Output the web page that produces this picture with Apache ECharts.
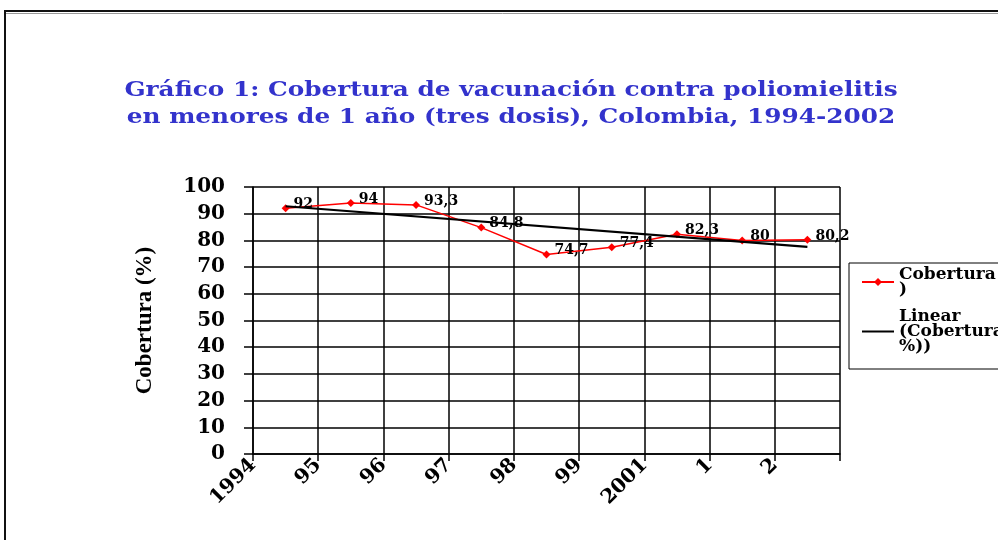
<!DOCTYPE html>
<html>
<head>
<meta charset="utf-8">
<title>Cobertura de vacunación contra poliomielitis</title>
<script src="https://cdn.jsdelivr.net/npm/echarts@6/dist/echarts.min.js"></script>
<style>
  html, body { margin: 0; padding: 0; background: #fff; }
  #main { width: 998px; height: 540px; }
</style>
</head>
<body>
<div id="main"></div>
<script>
// datos
var years = ['1994', '95', '96', '97', '98', '99', '2001', '1', '2'];
var cobertura = [92, 94, 93.3, 84.8, 74.7, 77.4, 82.3, 80, 80.2];
// tendencia lineal (extremos)
var tendencia = [92.8, 77.6];
// etiquetas del eje x, van en las marcas (una mas que categorias)
var tickLabels = years.concat(['']);

var titulo = 'Gráfico 1: Cobertura de vacunación contra poliomielitis\nen menores de 1 año (tres dosis), Colombia, 1994-2002';
var serieNombre = 'Cobertura (%)';
var tendNombre = 'Linear (Cobertura (%))';

var chart = echarts.init(document.getElementById('main'), null, { renderer: 'canvas' });

var option = {
  backgroundColor: '#fff',
  animation: false,
  graphic: [
    { // marco exterior
      type: 'rect',
      shape: { x: 5, y: 11, width: 1100, height: 600 },
      style: { fill: 'none', stroke: '#111', lineWidth: 2 },
      z: 0
    },
    { // sombra gris del marco
      type: 'line',
      shape: { x1: 6, y1: 13.5, x2: 1000, y2: 13.5 },
      style: { stroke: '#999', lineWidth: 1 },
      z: 0
    },
    { // titulo (el original esta estirado en horizontal)
      type: 'text',
      x: 511,
      y: 77,
      scaleX: 1.18,
      style: {
        text: titulo,
        align: 'center',
        verticalAlign: 'top',
        fontFamily: 'DejaVu Serif',
        fontWeight: 'bold',
        fontSize: 21,
        lineHeight: 27,
        fill: '#3333CC'
      },
      z: 5
    }
  ],
  legend: {
    orient: 'vertical',
    left: 849,
    top: 263,
    padding: [0, 0, 0, 12],
    borderColor: '#000',
    borderWidth: 1,
    itemWidth: 32,
    itemHeight: 10,
    itemGap: -7,
    textStyle: {
      fontFamily: 'DejaVu Serif',
      fontWeight: 'bold',
      fontSize: 17,
      lineHeight: 15,
      color: '#000'
    },
    data: [
      { name: serieNombre, textStyle: { padding: [8, 0, 0, 0] } },
      { name: tendNombre, itemStyle: { opacity: 0 }, textStyle: { padding: [30, 0, 0, 0] } }
    ],
    formatter: function (name) {
      if (name === serieNombre) return 'Cobertura (%\n)';
      return 'Linear\n(Cobertura (\n%))';
    }
  },
  grid: {
    left: 253,
    right: 158,
    top: 187,
    bottom: 86
  },
  xAxis: [
    {
      type: 'category',
      data: years,
      boundaryGap: true,
      position: 'bottom',
      axisLine: { lineStyle: { color: '#000', width: 1.5 } },
      axisTick: { show: true, length: 7, lineStyle: { color: '#000', width: 1.5 } },
      axisLabel: { show: false },
      splitLine: { show: true, lineStyle: { color: '#000', width: 1.5 } }
    },
    {
      type: 'category',
      data: tickLabels,
      boundaryGap: false,
      position: 'bottom',
      axisLine: { show: false },
      axisTick: { show: false },
      splitLine: { show: false },
      axisLabel: {
        interval: 0,
        rotate: 45,
        margin: 8,
        fontFamily: 'DejaVu Serif',
        fontWeight: 'bold',
        fontSize: 20,
        color: '#000'
      }
    }
  ],
  yAxis: {
    type: 'value',
    min: 0,
    max: 100,
    interval: 10,
    name: 'Cobertura (%)',
    nameLocation: 'middle',
    nameGap: 96,
    nameTextStyle: {
      fontFamily: 'Liberation Serif',
      fontWeight: 'bold',
      fontSize: 23,
      color: '#000'
    },
    axisLine: { show: true, lineStyle: { color: '#000', width: 1.5 } },
    axisTick: { show: true, length: 9, lineStyle: { color: '#000', width: 1.5 } },
    axisLabel: {
      margin: 28,
      fontFamily: 'DejaVu Serif',
      fontWeight: 'bold',
      fontSize: 20,
      color: '#000'
    },
    splitLine: { show: true, lineStyle: { color: '#000', width: 1.5 } }
  },
  series: [
    {
      name: serieNombre,
      type: 'line',
      xAxisIndex: 0,
      data: cobertura,
      color: '#FF0000',
      symbol: 'diamond',
      symbolSize: 8,
      lineStyle: { width: 1.5, color: '#FF0000' },
      label: {
        show: true,
        position: 'right',
        distance: 4,
        offset: [0, -4],
        fontFamily: 'DejaVu Serif',
        fontWeight: 'bold',
        fontSize: 14,
        color: '#000',
        formatter: function (p) {
          return String(p.value).replace('.', ',');
        }
      },
      z: 3
    },
    {
      name: tendNombre,
      type: 'line',
      xAxisIndex: 0,
      data: [[years[0], tendencia[0]], [years[years.length - 1], tendencia[1]]],
      color: '#000',
      symbol: 'none',
      lineStyle: { width: 2.2, color: '#000' },
      silent: true,
      z: 4
    }
  ]
};

chart.setOption(option);
</script>
</body>
</html>
